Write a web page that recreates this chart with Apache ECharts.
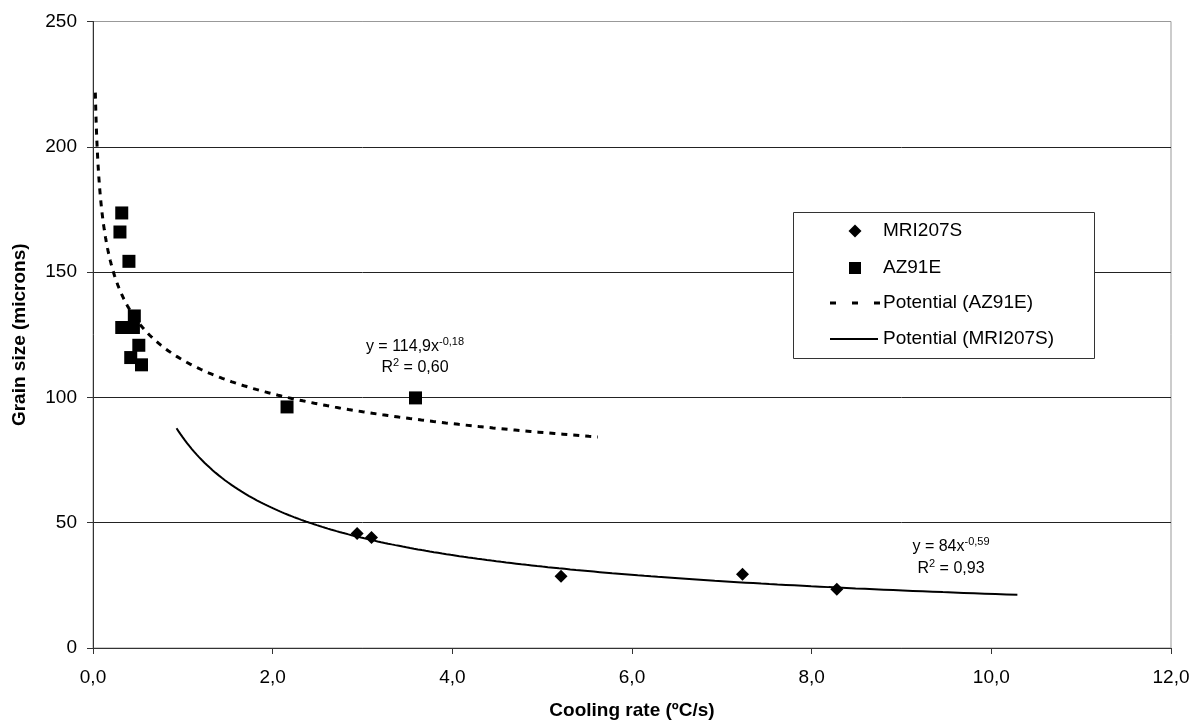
<!DOCTYPE html>
<html>
<head>
<meta charset="utf-8">
<script src="https://cdn.jsdelivr.net/npm/echarts@6/dist/echarts.min.js"></script>
<style>
  html, body { margin: 0; padding: 0; background: #fff; }
  #chart { width: 1199px; height: 725px; }
</style>
</head>
<body>
<div id="chart"></div>
<script>
// Measured grain sizes against cooling rate
const mriX = [2.94, 3.10, 5.21, 7.23, 8.28];
const mriY = [45.7, 44.1, 28.6, 29.4, 23.4];

const azX = [0.32, 0.30, 0.40, 0.46, 0.32, 0.45, 0.51, 0.42, 0.54, 2.16, 3.59];
const azY = [173.6, 166.0, 154.3, 132.5, 127.9, 127.9, 120.8, 115.9, 113.0, 96.2, 99.8];

// Power-law trend lines y = a * x^b, with the x range each one covers
const azFit = [114.9, -0.18];
const azFitRange = [0.026, 5.62];
const mriFit = [84, -0.59];
const mriFitRange = [0.93, 10.29];

const seriesNames = ['MRI207S', 'AZ91E', 'Potential (AZ91E)', 'Potential (MRI207S)'];
const xTicks = [0, 2, 4, 6, 8, 10, 12];
const yTicks = [0, 50, 100, 150, 200, 250];

const FONT = '"Liberation Sans", Arial, sans-serif';
const AZ_DASH = [6, 6];

function pairs(xs, ys) {
  return xs.map((x, i) => [x, ys[i]]);
}

// Sample a fitted power curve on a log-spaced grid across its range
function powerCurve(fit, range, n) {
  const pts = [];
  const l0 = Math.log(range[0]), l1 = Math.log(range[1]);
  for (let i = 0; i <= n; i++) {
    const x = Math.exp(l0 + (l1 - l0) * i / n);
    pts.push([x, fit[0] * Math.pow(x, fit[1])]);
  }
  return pts;
}

function fmtComma(v) {
  return v.toFixed(1).replace('.', ',');
}

// Boxed key in the upper right of the plot, drawn above the grid lines
function legendGraphic() {
  const Z = 100;
  const box = { x: 793, y: 212, w: 301, h: 146 };
  const rowsY = [231, 268, 303, 339];
  const iconCx = 855, lineX0 = 830, lineX1 = 880, textX = 883;
  const label = (t, y) => ({
    type: 'text', x: textX, y: y, z: Z + 1,
    style: { text: t, fontFamily: FONT, fontSize: 19, fill: '#000', align: 'left', verticalAlign: 'middle' }
  });
  return [
    { type: 'rect', z: Z, shape: { x: box.x + 0.5, y: box.y + 0.5, width: box.w, height: box.h },
      style: { fill: '#fff', stroke: '#333', lineWidth: 1 } },
    { type: 'polygon', z: Z + 1,
      shape: { points: [[iconCx, rowsY[0] - 6.5], [iconCx + 6.5, rowsY[0]], [iconCx, rowsY[0] + 6.5], [iconCx - 6.5, rowsY[0]]] },
      style: { fill: '#000' } },
    label(seriesNames[0], rowsY[0]),
    { type: 'rect', z: Z + 1, shape: { x: iconCx - 6, y: rowsY[1] - 6, width: 12, height: 12 }, style: { fill: '#000' } },
    label(seriesNames[1], rowsY[1]),
    { type: 'line', z: Z + 1, shape: { x1: lineX0, y1: rowsY[2], x2: lineX1, y2: rowsY[2] },
      style: { stroke: '#000', lineWidth: 3, lineDash: [6, 16], lineCap: 'butt' } },
    label(seriesNames[2], rowsY[2]),
    { type: 'line', z: Z + 1, shape: { x1: lineX0, y1: rowsY[3], x2: lineX1 - 2, y2: rowsY[3] },
      style: { stroke: '#000', lineWidth: 2 } },
    label(seriesNames[3], rowsY[3])
  ];
}

const chart = echarts.init(document.getElementById('chart'), null, { renderer: 'canvas' });

const option = {
  animation: false,
  backgroundColor: '#fff',
  textStyle: { fontFamily: FONT },
  grid: {
    left: 93, right: 28, top: 21.5, bottom: 75,
    show: true, borderColor: '#999', borderWidth: 1, backgroundColor: 'transparent'
  },
  xAxis: {
    type: 'value',
    min: xTicks[0], max: xTicks[xTicks.length - 1], interval: 2,
    name: 'Cooling rate (ºC/s)',
    nameLocation: 'middle', nameGap: 53,
    nameTextStyle: { fontFamily: FONT, fontSize: 19, fontWeight: 'bold', color: '#000' },
    axisLine: { show: true, onZero: false, lineStyle: { color: '#333', width: 1 } },
    axisTick: { show: true, length: 6, inside: false, lineStyle: { color: '#333' } },
    axisLabel: { fontFamily: FONT, fontSize: 19, color: '#000', margin: 20, formatter: fmtComma },
    splitLine: { show: false }
  },
  yAxis: {
    type: 'value',
    min: yTicks[0], max: yTicks[yTicks.length - 1], interval: 50,
    name: 'Grain size (microns)',
    nameLocation: 'middle', nameGap: 64,
    nameTextStyle: { fontFamily: FONT, fontSize: 19, fontWeight: 'bold', color: '#000' },
    axisLine: { show: true, onZero: false, lineStyle: { color: '#333', width: 1 } },
    axisTick: { show: true, length: 6, inside: false, lineStyle: { color: '#333' } },
    axisLabel: { fontFamily: FONT, fontSize: 19, color: '#000', margin: 16 },
    splitLine: {
      show: true,
      lineStyle: { color: ['#333', '#222', '#222', '#222', '#222', '#999'], width: 1 }
    }
  },
  series: [
    {
      name: seriesNames[0], type: 'scatter',
      symbol: 'diamond', symbolSize: 13,
      itemStyle: { color: '#000', opacity: 1 },
      data: pairs(mriX, mriY), z: 5
    },
    {
      name: seriesNames[1], type: 'scatter',
      symbol: 'rect', symbolSize: 13,
      itemStyle: { color: '#000', opacity: 1 },
      data: pairs(azX, azY), z: 5
    },
    {
      name: seriesNames[2], type: 'line',
      symbol: 'none', showSymbol: false, smooth: false,
      lineStyle: { color: '#000', width: 3, type: AZ_DASH, cap: 'butt' },
      data: powerCurve(azFit, azFitRange, 300), z: 4
    },
    {
      name: seriesNames[3], type: 'line',
      symbol: 'none', showSymbol: false, smooth: false,
      lineStyle: { color: '#000', width: 2, type: 'solid' },
      data: powerCurve(mriFit, mriFitRange, 200), z: 4
    }
  ],
  graphic: legendGraphic().concat([
    {
      type: 'text', x: 415, y: 336, z: 10,
      style: {
        text: '{a|y = 114,9x}{s|-0,18}\n{a|R}{s|2}{a| = 0,60}',
        align: 'center', verticalAlign: 'top',
        rich: {
          a: { fontFamily: FONT, fontSize: 16, color: '#000', lineHeight: 21 },
          s: { fontFamily: FONT, fontSize: 11, color: '#000', lineHeight: 21, verticalAlign: 'top' }
        }
      }
    },
    {
      type: 'text', x: 951, y: 536, z: 10,
      style: {
        text: '{a|y = 84x}{s|-0,59}\n{a|R}{s|2}{a| = 0,93}',
        align: 'center', verticalAlign: 'top',
        rich: {
          a: { fontFamily: FONT, fontSize: 16, color: '#000', lineHeight: 22 },
          s: { fontFamily: FONT, fontSize: 11, color: '#000', lineHeight: 22, verticalAlign: 'top' }
        }
      }
    }
  ])
};

chart.setOption(option);
</script>
</body>
</html>
